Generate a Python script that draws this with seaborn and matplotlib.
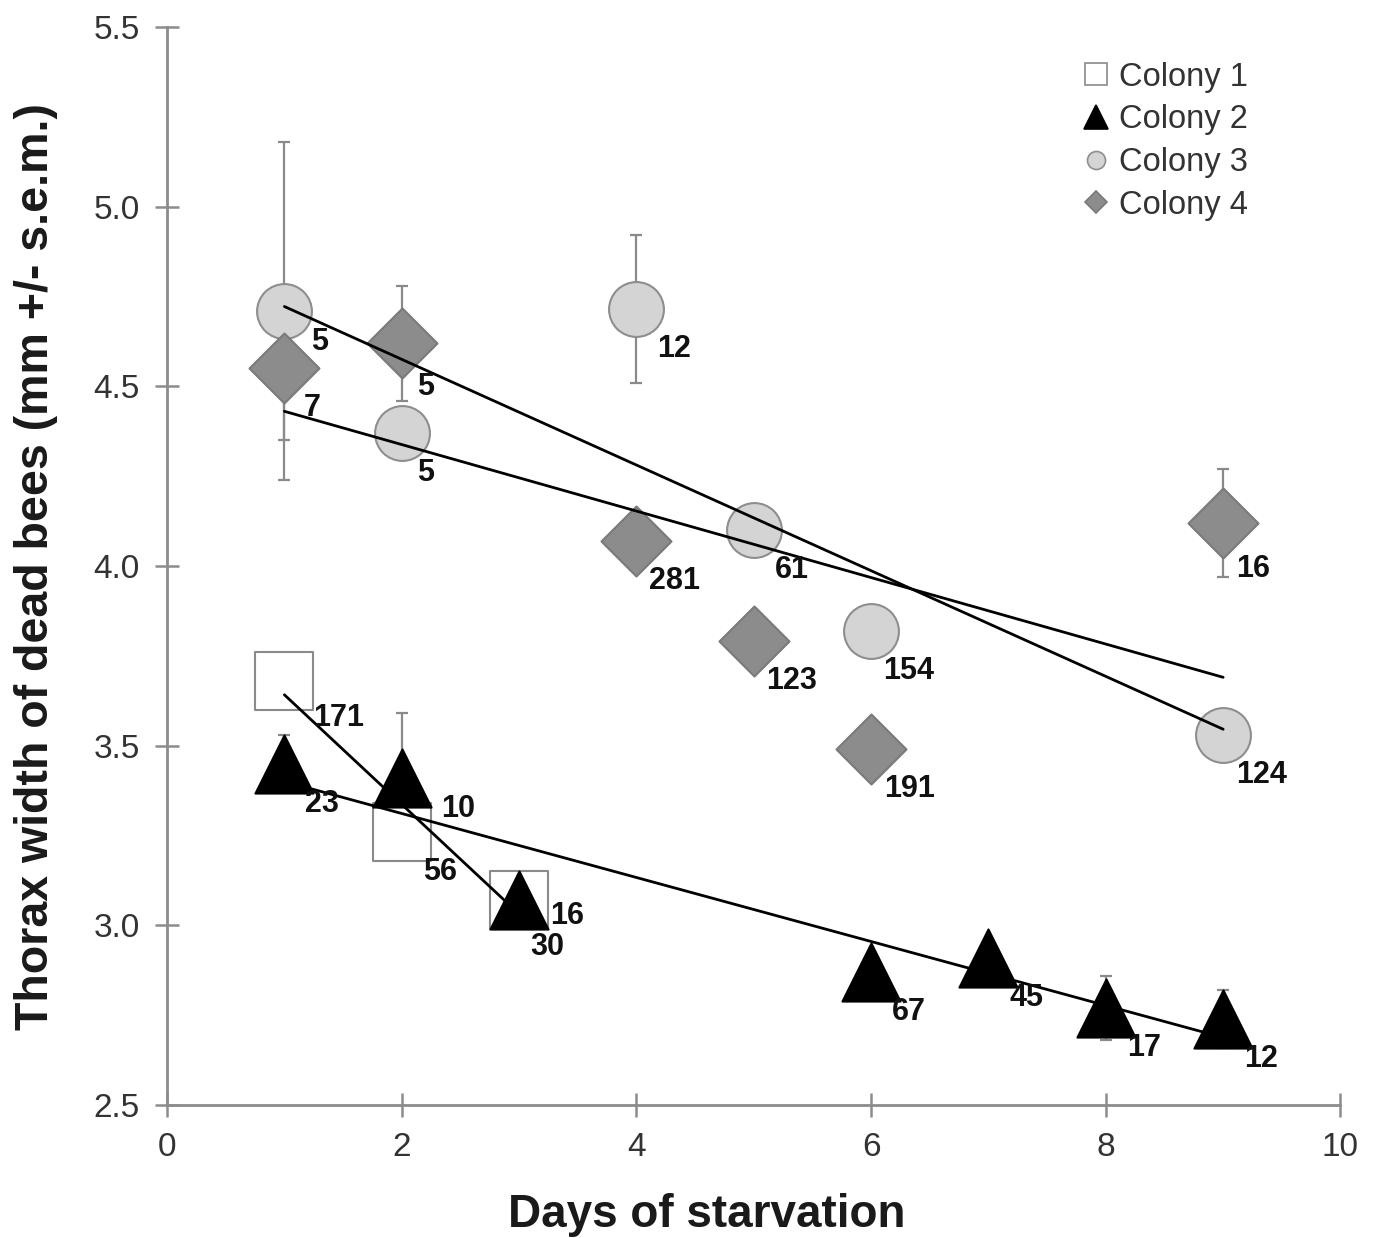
import numpy as np
import pandas as pd
import matplotlib
matplotlib.use("Agg")
import matplotlib.pyplot as plt
from matplotlib.lines import Line2D
import seaborn as sns

# Datos (dias de inanicion vs anchura del torax)
days_c1 = [1, 2, 3]
width_c1 = [3.68, 3.26, 3.07]
sem_c1 = [0.0, 0.0, 0.0]
n_c1 = [171, 56, 16]

days_c2 = [1, 2, 3, 6, 7, 8, 9]
width_c2 = [3.45, 3.41, 3.07, 2.87, 2.91, 2.77, 2.74]
sem_c2 = [0.08, 0.18, 0.0, 0.0, 0.0, 0.09, 0.08]
n_c2 = [23, 10, 30, 67, 45, 17, 12]

days_c3 = [1, 2, 4, 5, 6, 9]
width_c3 = [4.71, 4.37, 4.715, 4.10, 3.82, 3.53]
sem_c3 = [0.47, 0.0, 0.205, 0.0, 0.0, 0.0]
n_c3 = [5, 5, 12, 61, 154, 124]

days_c4 = [1, 2, 4, 5, 6, 9]
width_c4 = [4.55, 4.62, 4.07, 3.79, 3.49, 4.12]
sem_c4 = [0.2, 0.16, 0.0, 0.0, 0.0, 0.15]
n_c4 = [7, 5, 281, 123, 191, 16]

colony_names = ["Colony 1", "Colony 2", "Colony 3", "Colony 4"]

# Estilos por colonia: marker, area, relleno, borde, tamano en leyenda
STYLES = {
    "Colony 1": dict(marker="s", s=1750, fc="white", ec="#8a8a8a", leg=16),
    "Colony 2": dict(marker="^", s=1750, fc="black", ec="black", leg=17),
    "Colony 3": dict(marker="o", s=1560, fc="#d4d4d4", ec="#8e8e8e", leg=13),
    "Colony 4": dict(marker="D", s=1270, fc="#8c8c8c", ec="#7a7a7a", leg=11),
}

# Desplazamientos especiales de las etiquetas (px)
LABEL_OFFSET = (38, -40)
LABEL_NUDGE = {
    ("Colony 1", 1): (54, -37),
    ("Colony 1", 3): (48, -16),
    ("Colony 2", 2): (56, -31),
    ("Colony 2", 3): (28, -47),
    ("Colony 3", 1): (35, -31),
    ("Colony 3", 2): (24, -40),
    ("Colony 4", 1): (28, -40),
    ("Colony 4", 2): (24, -44),
    ("Colony 4", 9): (30, -46),
}

frames = []
for name, d, w, e, n in zip(
    colony_names,
    [days_c1, days_c2, days_c3, days_c4],
    [width_c1, width_c2, width_c3, width_c4],
    [sem_c1, sem_c2, sem_c3, sem_c4],
    [n_c1, n_c2, n_c3, n_c4],
):
    frames.append(pd.DataFrame({"colony": name, "day": d, "width": w, "sem": e, "n": n}))
df = pd.concat(frames, ignore_index=True)

sns.set_style("ticks")
plt.rcParams["font.family"] = ["Liberation Sans", "DejaVu Sans"]

fig = plt.figure(figsize=(13.76, 12.38), dpi=100)
ax = fig.add_axes([0.1214, 0.1074, 0.8528, 0.8708])

SPINE = "#8c8c8c"

for name in colony_names:
    sub = df[df["colony"] == name]
    st = STYLES[name]
    # barras de error (detras de los marcadores)
    ax.errorbar(
        sub["day"], sub["width"], yerr=sub["sem"], fmt="none",
        ecolor="#8a8a8a", elinewidth=1.6, capsize=4.5, capthick=1.6, zorder=1,
    )
    sns.scatterplot(
        data=sub, x="day", y="width", marker=st["marker"], s=st["s"],
        color=st["fc"], edgecolor=st["ec"], linewidth=1.5, ax=ax, zorder=2,
        legend=False,
    )

# rectas de regresion
for name in colony_names:
    sub = df[df["colony"] == name]
    sns.regplot(
        data=sub, x="day", y="width", scatter=False, ci=None, truncate=True,
        color="black", line_kws={"linewidth": 2.0, "zorder": 4}, ax=ax,
    )

# etiquetas con el numero de abejas
for _, row in df.iterrows():
    off = LABEL_NUDGE.get((row["colony"], int(row["day"])), LABEL_OFFSET)
    ax.annotate(
        str(int(row["n"])), (row["day"], row["width"]), xytext=off,
        textcoords="offset pixels", ha="center", va="center",
        fontsize=22, fontweight="bold",
        family=["Liberation Sans Narrow", "Liberation Sans", "DejaVu Sans"],
        color="#111111", zorder=5,
    )

ax.set_xlim(0, 10)
ax.set_ylim(2.5, 5.5)
ax.set_xticks(np.arange(0, 11, 2))
ax.set_yticks(np.arange(2.5, 5.51, 0.5))
ax.set_yticklabels([f"{v:.1f}" for v in np.arange(2.5, 5.51, 0.5)])
ax.set_xticklabels([str(v) for v in range(0, 11, 2)])

for side in ["top", "right"]:
    ax.spines[side].set_visible(False)
for side in ["left", "bottom"]:
    ax.spines[side].set_color(SPINE)
    ax.spines[side].set_linewidth(2)

ax.tick_params(
    direction="inout", length=17, width=1.8, color=SPINE, pad=11,
    labelsize=24, labelcolor="#333333",
)

ax.set_xlabel("Days of starvation", fontsize=33, fontweight="bold", color="#1a1a1a")
ax.set_ylabel("Thorax width of dead bees (mm +/- s.e.m.)", fontsize=33.5,
              fontweight="bold", color="#1a1a1a")
ax.xaxis.set_label_coords(0.46, -0.082)
ax.yaxis.set_label_coords(-0.093, 0.5)

handles = []
for name in colony_names:
    st = STYLES[name]
    handles.append(Line2D([], [], linestyle="none", marker=st["marker"],
                          markersize=st["leg"], markerfacecolor=st["fc"],
                          markeredgecolor=st["ec"], markeredgewidth=1.2))
leg = ax.legend(
    handles, colony_names, loc="upper left", bbox_to_anchor=(0.767, 0.983),
    frameon=False, fontsize=23.5, handlelength=0.8, handletextpad=0.3,
    labelspacing=0.36, borderpad=0,
)
for t in leg.get_texts():
    t.set_color("#333333")

fig.savefig("out.png", dpi=100)
